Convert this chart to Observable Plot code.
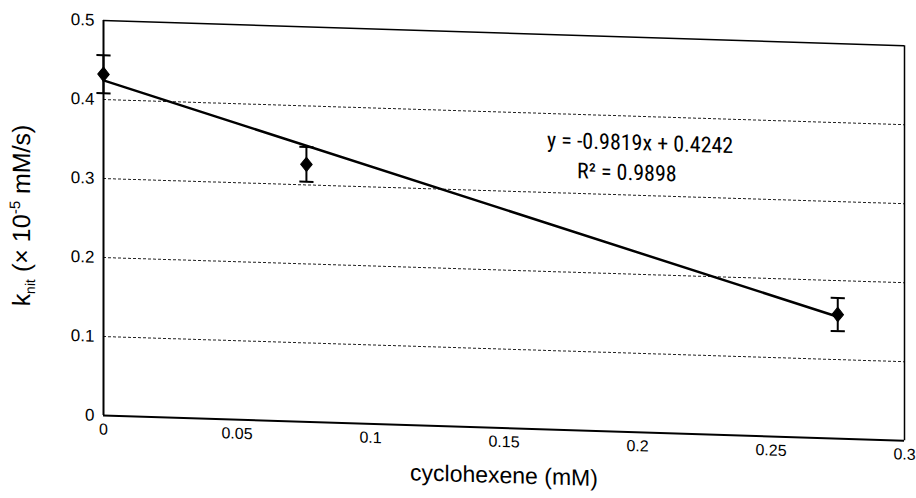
<!DOCTYPE html>
<html><head><meta charset="utf-8">
<script src="https://cdn.jsdelivr.net/npm/d3@7"></script>
<script src="https://cdn.jsdelivr.net/npm/@observablehq/plot@0.6"></script>
<style>
body{margin:0;background:#fff;}
#chart svg{display:block;transform:skewY(1.8deg);transform-origin:103px 0;}
</style></head><body><div id="chart"></div>
<script>
// ---- data ----
const cyclohexene = [0, 0.076, 0.275];          // mM
const kInit = [0.432, 0.326, 0.157];            // x 10^-5 mM/s
const kError = [0.024, 0.022, 0.021];
const trendSlope = -0.9819;
const trendIntercept = 0.4242;
const xTicks = [0, 0.05, 0.1, 0.15, 0.2, 0.25, 0.3];
const yTicks = [0, 0.1, 0.2, 0.3, 0.4, 0.5];
const equationText = ["y = -0.9819x + 0.4242", "R² = 0.9898"];
const xTitle = "cyclohexene (mM)";

const points = cyclohexene.map((x, i) => ({x, y: kInit[i], lo: kInit[i] - kError[i], hi: kInit[i] + kError[i]}));
const trend = [d3.min(cyclohexene), d3.max(cyclohexene)].map(x => ({x, y: trendSlope * x + trendIntercept}));
const grid = yTicks.filter(v => v > 0 && v < d3.max(yTicks));

const sans = "'Liberation Sans',Arial,Helvetica,sans-serif";
const narrow = "'Liberation Sans Narrow','Arial Narrow','Roboto Condensed','Liberation Sans',Arial,sans-serif";
const capSymbol = {draw(ctx, size) {const w = Math.sqrt(size); ctx.moveTo(-w, 0); ctx.lineTo(w, 0);}};
const diamondSymbol = {draw(ctx, size) {const s = Math.sqrt(size); const hw = 0.5 * s, hh = 0.62 * s;
  ctx.moveTo(0, -hh); ctx.lineTo(hw, 0); ctx.lineTo(0, hh); ctx.lineTo(-hw, 0); ctx.closePath();}};
const fmt = d => String(d);

const chart = Plot.plot({
  width: 916, height: 498,
  marginLeft: 103, marginRight: 12, marginTop: 20, marginBottom: 83,
  style: {fontFamily: sans, fontSize: "16px", color: "#000", background: "#fff"},
  x: {domain: [0, 0.3], axis: null},
  y: {domain: [0, 0.5], axis: null},
  marks: [
    // tick labels (drawn as text marks positioned by the scales)
    Plot.text(xTicks, {x: d => d, frameAnchor: "bottom", dy: 19, text: fmt, fontSize: 16, fill: "#000"}),
    Plot.text(yTicks, {y: d => d, frameAnchor: "left", dx: -9, textAnchor: "end", text: fmt, fontSize: 17, fill: "#000"}),
    Plot.ruleY(grid, {stroke: "#222", strokeWidth: 1, strokeDasharray: "3,2"}),
    Plot.ruleY([d3.max(yTicks)], {stroke: "#000", strokeWidth: 1.5}),
    Plot.ruleX([d3.max(xTicks)], {stroke: "#000", strokeWidth: 1.5}),
    Plot.ruleX([0], {stroke: "#000", strokeWidth: 2}),
    Plot.ruleY([0], {stroke: "#000", strokeWidth: 2}),
    Plot.line(trend, {x: "x", y: "y", stroke: "#000", strokeWidth: 2.5}),
    Plot.ruleX(points, {x: "x", y1: "lo", y2: "hi", stroke: "#000", strokeWidth: 2}),
    Plot.dot(points, {x: "x", y: "lo", symbol: capSymbol, r: 4, stroke: "#000", strokeWidth: 2, fill: "none"}),
    Plot.dot(points, {x: "x", y: "hi", symbol: capSymbol, r: 4, stroke: "#000", strokeWidth: 2, fill: "none"}),
    Plot.dot(points, {x: "x", y: "y", symbol: diamondSymbol, r: 6.5, fill: "#000", stroke: "#000", strokeWidth: 1}),
    Plot.text([equationText[0]], {x: 0.201, y: 0.366, text: d => d, fontSize: 22, fontFamily: narrow, fill: "#000"}),
    Plot.text([equationText[1]], {x: 0.196, y: 0.328, text: d => d, fontSize: 22, fontFamily: narrow, fill: "#000"}),
    Plot.text([xTitle], {frameAnchor: "bottom", dy: 55, text: d => d, fontSize: 23, fill: "#000"})
  ]
});

// y-axis title with subscript / superscript
const t = d3.select(chart).append("text")
  .attr("transform", "translate(30,218) rotate(-90)")
  .attr("text-anchor", "middle")
  .attr("font-family", sans)
  .attr("font-size", 25)
  .attr("fill", "#000");
t.append("tspan").text("k");
t.append("tspan").attr("font-size", 14).attr("dy", 5).text("nit");
t.append("tspan").attr("dy", -5).text(" (× 10");
t.append("tspan").attr("font-size", 15).attr("dy", -10).text("-5");
t.append("tspan").attr("dy", 10).text(" mM/s)");

document.getElementById("chart").append(chart);
</script></body></html>
